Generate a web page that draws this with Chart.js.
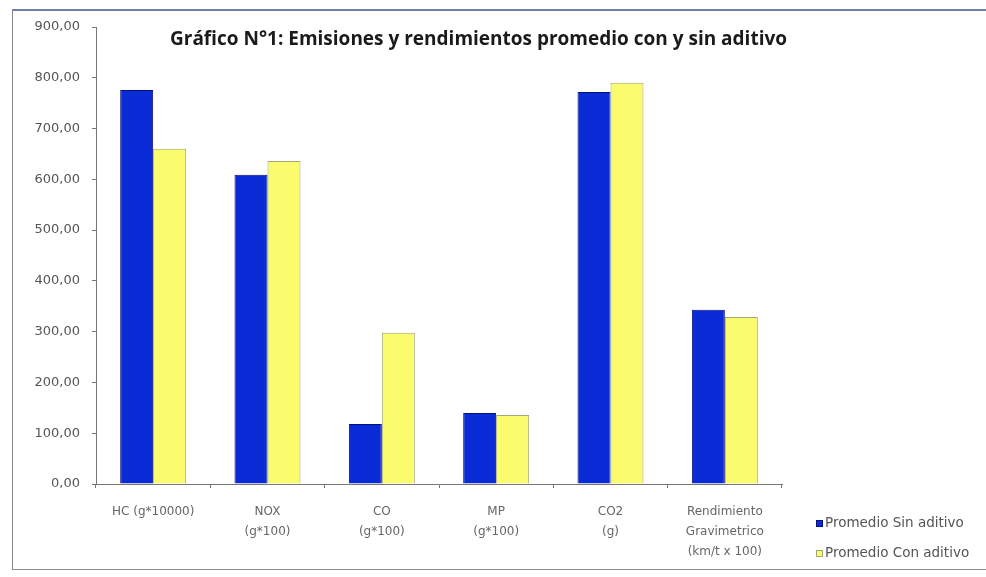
<!DOCTYPE html>
<html>
<head>
<meta charset="utf-8">
<script src="https://cdn.jsdelivr.net/npm/chart.js@4.4.0/dist/chart.umd.min.js"></script>
<style>
    html, body { margin: 0; padding: 0; background: #fff; }
    #wrap { position: relative; width: 986px; height: 577px; overflow: hidden; }
    #frame {
        position: absolute; left: 12px; top: 9px; width: 990px; height: 561px;
        border: 1px solid #8a8a8a; border-top: 2px solid #6f7fa8; box-sizing: border-box;
    }
    #title {
        position: absolute; left: 170px; top: 25px; white-space: nowrap;
        font: bold 19px "Open Sans", sans-serif; color: #1a1a1a;
    }
    #legend { position: absolute; left: 816px; top: 512px; font: 13.5px "DejaVu Sans", sans-serif; color: #555; }
    #legend div { height: 30px; line-height: 20px; white-space: nowrap; }
    #legend span.box { display: inline-block; width: 7px; height: 7px; margin-right: 2px; vertical-align: 0px; box-sizing: border-box; }
    canvas { position: absolute; left: 0; top: 0; }
</style>
</head>
<body>
<div id="wrap">
    <div id="frame"></div>
    <canvas id="chart" width="986" height="577"></canvas>
    <div id="title">Gráfico N°1: Emisiones y rendimientos promedio con y sin aditivo</div>
    <div id="legend"></div>
</div>
<script>
// categories and series
const categories = [
    ['HC (g*10000)'],
    ['NOX', '(g*100)'],
    ['CO', '(g*100)'],
    ['MP', '(g*100)'],
    ['CO2', '(g)'],
    ['Rendimiento', 'Gravimetrico', '(km/t x 100)']
];
const seriesNames = ['Promedio Sin aditivo', 'Promedio Con aditivo'];
const sinAditivo = [776, 609, 118, 140, 772, 343];
const conAditivo = [660, 636, 298, 136, 790, 329];
const yTicks = [0, 100, 200, 300, 400, 500, 600, 700, 800, 900];

const fills = ['#0b2bd6', '#fbfb6e'];
const borders = ['#05107a', '#a3a676'];

const ctx = document.getElementById('chart').getContext('2d');
const chart = new Chart(ctx, {
    type: 'bar',
    data: {
        labels: categories,
        datasets: [sinAditivo, conAditivo].map((d, i) => ({
            label: seriesNames[i],
            data: d,
            backgroundColor: fills[i],
            borderColor: borders[i],
            borderWidth: 1,
            categoryPercentage: 0.577,
            barPercentage: 1
        }))
    },
    options: {
        responsive: false,
        animation: false,
        layout: { padding: { left: 20, right: 204, top: 27, bottom: 0 } },
        plugins: {
            legend: { display: false },
            tooltip: { enabled: false }
        },
        scales: {
            x: {
                grid: { display: true, drawOnChartArea: false, tickLength: 4, color: '#777' },
                border: { color: '#777' },
                ticks: {
                    color: '#666',
                    font: { family: 'DejaVu Sans', size: 12, lineHeight: 1.67 },
                    padding: 14,
                    maxRotation: 0, autoSkip: false
                },
                afterFit: (scale) => { scale.height = 577 - 484; }
            },
            y: {
                min: 0, max: 900,
                afterBuildTicks: (scale) => { scale.ticks = yTicks.map(v => ({ value: v })); },
                grid: { display: true, drawOnChartArea: false, tickLength: 4, color: '#777' },
                border: { color: '#777' },
                ticks: {
                    color: '#555',
                    font: { family: 'DejaVu Sans', size: 13 },
                    padding: 12,
                    callback: (v) => v.toFixed(2).replace('.', ',')
                },
                afterFit: (scale) => { scale.width = 76; }
            }
        }
    }
});

// legend in the lower right corner, built from the datasets
const legend = document.getElementById('legend');
chart.data.datasets.forEach((ds) => {
    const row = document.createElement('div');
    row.innerHTML = '<span class="box" style="background:' + ds.backgroundColor +
        ';border:1px solid ' + ds.borderColor + '"></span>' + ds.label;
    legend.appendChild(row);
});
</script>
</body>
</html>
